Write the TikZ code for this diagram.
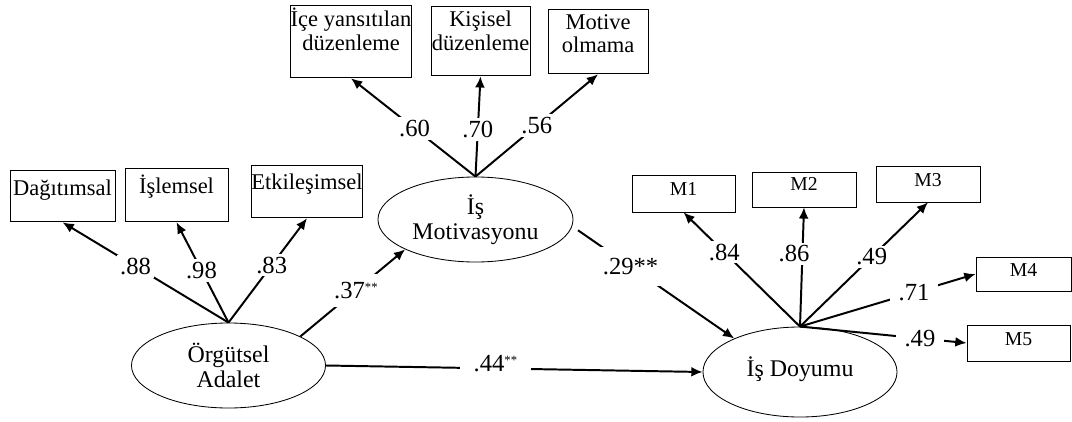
\documentclass[tikz,border=0pt]{standalone}
\usepackage{fontspec}
\setmainfont{Liberation Serif}
\usepackage{tikz}
\usetikzlibrary{shapes.geometric,arrows.meta}
\tikzstyle{line} = [draw,line width=1.4pt,-{Latex[length=8pt,width=7pt]}]
\newcommand{\twostar}{\raisebox{5pt}{\fontsize{9}{9}\selectfont **}}

\begin{document}
\begin{tikzpicture}[x=0.025cm,y=-0.025cm]
  \tikzstyle{latent} = [ellipse, draw, line width=0.6pt, inner sep=0pt, align=center, minimum width=4.85cm, minimum height=2.125cm, font=\fontsize{17}{17.7}\selectfont]
  \tikzstyle{indicator} = [draw, line width=0.6pt, inner sep=0pt, align=center, font=\fontsize{16}{17}\selectfont]
  \tikzstyle{item} = [indicator, font=\fontsize{14}{14}\selectfont]
  \tikzstyle{coef} = [fill=white, inner sep=2pt, font=\fontsize{17.5}{17.5}\selectfont]
  \useasboundingbox (0,0) rectangle (1072,421);
  % latent variables
  \node[latent] (adalet) at (228.5,365.5) {Örgütsel\\Adalet};
  \node[latent, minimum width=4.875cm] (motivasyon) at (475.5,219.5) {İş\\Motivasyonu};
  \node[latent, minimum height=2.25cm, text depth=8pt] (doyum) at (800,372) {İş Doyumu};
  % indicators of adalet
  \node[indicator, minimum width=2.625cm, text height=17.7pt, text depth=19.1pt] (dagitim) at (62.5,196) {Dağıtımsal};
  \node[indicator, minimum width=2.575cm, text height=17.9pt, text depth=20.3pt] (islem) at (176.5,195) {İşlemsel};
  \node[indicator, minimum width=2.75cm, text height=17.2pt, text depth=20.3pt] (etkilesim) at (307,191.5) {Etkileşimsel};
  % indicators of motivasyon
  \node[indicator, minimum width=2.95cm, text height=31.9pt, text depth=19.8pt] (icedus) at (351,41.5) {İçe yansıtılan\\düzenleme};
  \node[indicator, minimum width=2.475cm, text height=31.2pt, text depth=18.4pt] (kisisel) at (480.5,41) {Kişisel\\düzenleme};
  \node[indicator, minimum width=2.5cm, text height=31.2pt, text depth=14.9pt] (motive) at (598,41.5) {Motive\\olmama};
  % indicators of doyum
  \node[item, minimum width=2.575cm, text height=14.2pt, text depth=12pt] (m1) at (683.5,193.5) {M1};
  \node[item, minimum width=2.6cm, text height=13.2pt, text depth=11.6pt] (m2) at (804,189.5) {M2};
  \node[item, minimum width=2.6cm, text height=14.2pt, text depth=11.3pt] (m3) at (928,184) {M3};
  \node[item, minimum width=2.375cm, text height=14pt, text depth=10.1pt] (m4) at (1023.5,274) {M4};
  \node[item, minimum width=2.575cm, text height=14.2pt, text depth=11.3pt] (m5) at (1018.5,343) {M5};
  % loadings
  \draw[line] (adalet.north) -- node[coef, pos=.56] {.88} (dagitim.south);
  \draw[line] (adalet.north) -- node[coef, pos=.52] {.98} (islem.south);
  \draw[line] (adalet.north) -- node[coef, pos=.55] {.83} (etkilesim.south);
  \draw[line] (motivasyon.north) -- node[coef, pos=.49] {.60} (icedus.south);
  \draw[line] (motivasyon.north) -- node[coef, pos=.47] {.70} (kisisel.south);
  \draw[line] (motivasyon.north) -- node[coef, pos=.5] {.56} (motive.south);
  \draw[line] (doyum.north) -- node[coef, pos=.65] {.84} (m1.south);
  \draw[line] (doyum.north) -- node[coef, pos=.61, xshift=-6pt] {.86} (m2.south);
  \draw[line] (doyum.north) -- node[coef, pos=.56] {.49} (m3.south);
  \draw[line] (doyum.north) -- node[coef, pos=.65, inner xsep=6pt] {.71} (m4.west);
  \draw[line] (doyum.north) -- node[coef, pos=.72, inner xsep=6pt] {.49} (m5.west);
  % paths
  \draw[line] (adalet.22.4) -- node[coef, pos=.53, inner sep=6pt] {.37\twostar} (motivasyon.203.5);
  \draw[line, shorten <=5pt] (motivasyon.-4) -- node[coef, pos=.36, inner sep=8pt] {.29**} (doyum.153.4);
  \draw[line] (adalet.east) -- node[coef, pos=.45, yshift=3.5pt, inner xsep=10pt] {.44\twostar} (doyum.west);
\end{tikzpicture}
\end{document}
